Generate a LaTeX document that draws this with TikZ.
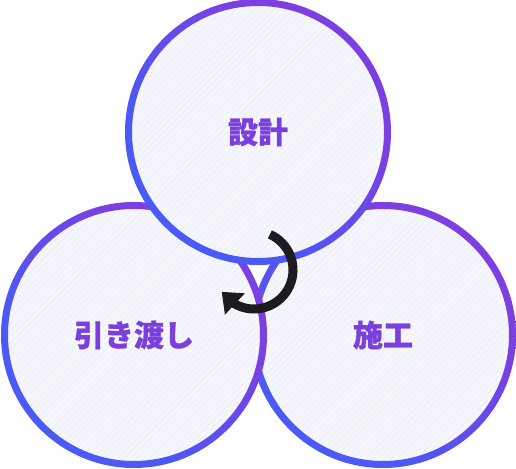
\documentclass[tikz,border=0pt]{standalone}
\usepackage{fontspec}
\newfontfamily\jpfont{Noto Sans CJK JP}[BoldFeatures={FakeBold=1}]
\usetikzlibrary{patterns.meta,arrows.meta,bending}

\definecolor{ringpurple}{HTML}{7B3FE2}
\definecolor{ringblue}{HTML}{4B59F7}
\definecolor{labelpurple}{HTML}{7A3FDC}
\definecolor{bubblefill}{HTML}{F6F7FD}
\definecolor{bubbleline}{HTML}{ECEEF9}
\definecolor{arrowblack}{HTML}{1D1A21}

\pgfdeclarehorizontalshading{ringshade}{100bp}{color(0bp)=(ringblue); color(36bp)=(ringblue); color(64bp)=(ringpurple); color(100bp)=(ringpurple)}

\tikzset{
  bubble/.style={circle, minimum size=259pt, inner sep=0pt,
    preaction={fill=bubblefill},
    pattern={Lines[angle=45,distance=4.5pt,line width=0.8pt]}, pattern color=bubbleline,
    text=labelpurple, font=\jpfont\bfseries\fontsize{30}{30}\selectfont},
  ring/.style={even odd rule, shading=ringshade, shading angle=45},
  turn/.style={line width=9pt, draw=arrowblack, -{Triangle[length=18pt,width=28pt,flex]}}
}

\begin{document}
\begin{tikzpicture}[x=1pt,y=1pt]
\useasboundingbox (0,0) rectangle (516,468);
% three phases
\node[bubble] (build) at (383,133) {施工};
\shade[ring] (build.center) circle[radius=133] circle[radius=126];
\node[bubble] (handover) at (134,133) {引き渡し};
\shade[ring] (handover.center) circle[radius=133] circle[radius=126];
\node[bubble] (design) at (258,336) {設計};
\shade[ring] (design.center) circle[radius=133] circle[radius=126];
% cycle arrow
\coordinate (turnc) at (254,198);
\draw[turn] ([shift={(66:39)}]turnc) arc[start angle=66,end angle=-146,radius=39];
\end{tikzpicture}
\end{document}
